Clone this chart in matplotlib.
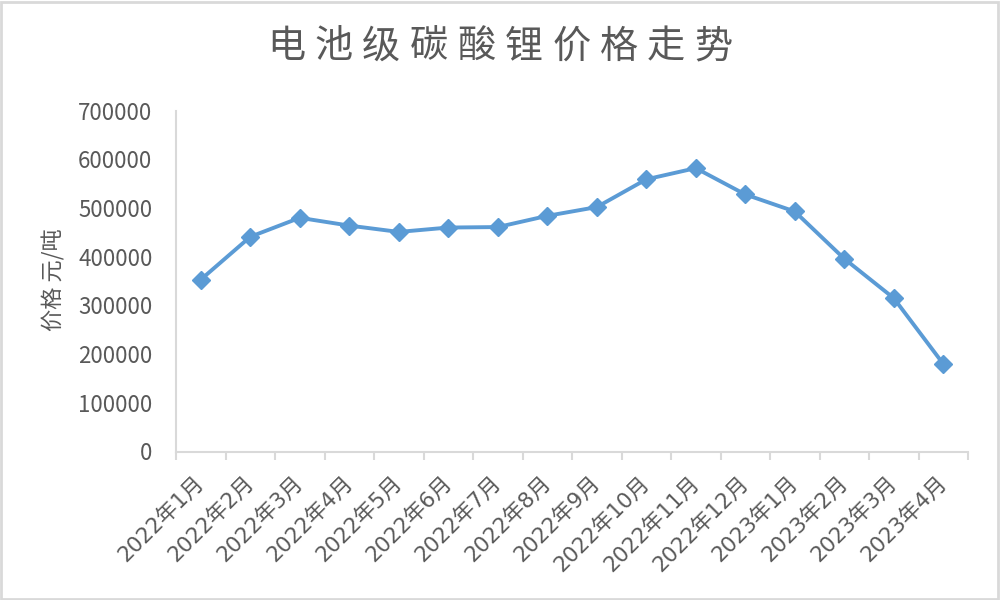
import matplotlib
matplotlib.use("Agg")
import matplotlib.pyplot as plt
from matplotlib.patches import Rectangle
from matplotlib.ticker import FixedLocator

plt.rcParams['font.family'] = ['Noto Sans CJK SC', 'DejaVu Sans']

title = "电池级碳酸锂价格走势"
ylabel = "价格 元/吨"
months = ["2022年1月", "2022年2月", "2022年3月", "2022年4月", "2022年5月", "2022年6月",
          "2022年7月", "2022年8月", "2022年9月", "2022年10月", "2022年11月", "2022年12月",
          "2023年1月", "2023年2月", "2023年3月", "2023年4月"]
prices = [353000, 441000, 480000, 464000, 451000, 460000,
          461000, 484000, 502000, 559000, 582000, 528000,
          493000, 396000, 315000, 180000]
yticks = [0, 100000, 200000, 300000, 400000, 500000, 600000, 700000]

text_color = "#595959"
axis_color = "#D9D9D9"
line_color = "#5B9BD5"

fig = plt.figure(figsize=(10, 6), dpi=100)
ax = fig.add_axes([0.176, 0.2475, 0.792, 0.568])

x = list(range(len(months)))
ax.plot(x, prices, color=line_color, lw=2.8, marker='D', markersize=9,
        markerfacecolor=line_color, markeredgecolor=line_color, zorder=3)

ax.set_xlim(-0.5, len(months) - 0.5)
ax.set_ylim(0, 700000)
ax.set_yticks(yticks)
ax.set_yticklabels([str(v) for v in yticks])
ax.tick_params(axis='y', length=0, pad=17, labelsize=16, labelcolor=text_color)

ax.set_xticks(x)
ax.set_xticklabels(months, rotation=45, ha='right', va='center', rotation_mode='anchor')
ax.tick_params(axis='x', which='major', length=0, pad=20, labelcolor=text_color)
for lbl in ax.get_xticklabels():
    lbl.set_fontfamily(['DejaVu Sans', 'Noto Sans CJK SC'])
    lbl.set_fontsize(15.5)
ax.xaxis.set_minor_locator(FixedLocator([i - 0.5 for i in range(len(months) + 1)]))
ax.tick_params(axis='x', which='minor', length=6, width=1.5, color=axis_color, direction='out')

for s in ['top', 'right']:
    ax.spines[s].set_visible(False)
ax.spines['left'].set_color(axis_color)
ax.spines['left'].set_linewidth(1.5)
ax.spines['bottom'].set_color(axis_color)
ax.spines['bottom'].set_linewidth(1.5)

fig.text(0.054, 1 - 280 / 600, ylabel, rotation=90, ha='center', va='center',
         fontsize=16, color=text_color)

# title with letter spacing
pitch = 47.5
n = len(title)
cx0 = 500 - pitch * (n - 1) / 2
for i, ch in enumerate(title):
    fig.text((cx0 + i * pitch) / 1000, 1 - 47 / 600, ch, ha='center', va='center',
             fontsize=27.5, color=text_color)

fig.add_artist(Rectangle((0.001, 0.0015), 0.997, 0.996, transform=fig.transFigure,
                         fill=False, edgecolor=axis_color, lw=2))

fig.savefig("out.png", dpi=100, facecolor='white')
